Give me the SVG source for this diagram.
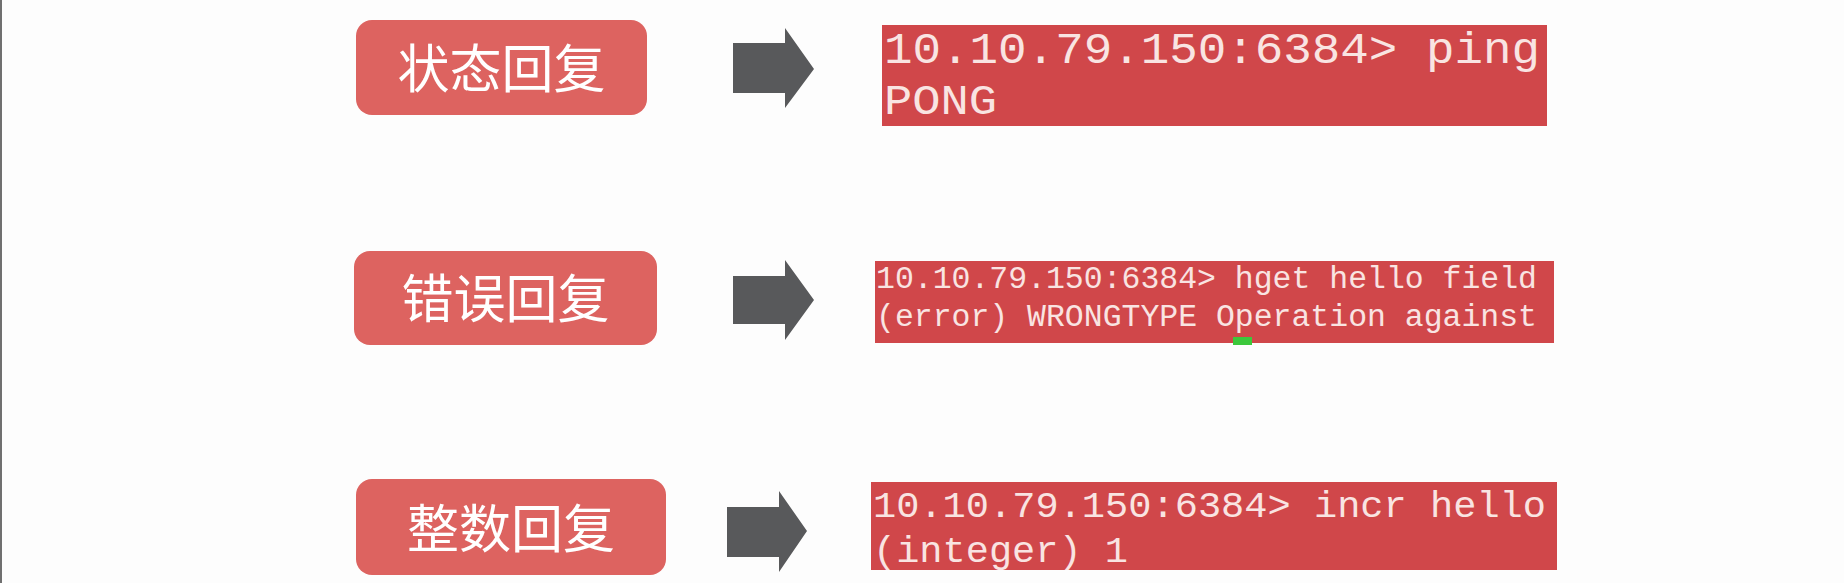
<svg xmlns="http://www.w3.org/2000/svg" width="1844" height="583" viewBox="0 0 1844 583">
<style>
.lbl{fill:#dd6360}
.lt{font-family:"Noto Sans CJK SC","Noto Sans",sans-serif;font-size:52px;fill:#ffffff;text-anchor:middle}
.term{fill:#d0474a}
.tt{font-family:"Liberation Mono","DejaVu Sans Mono",monospace;fill:#f9e4e2}
.arr{fill:#58595b}
</style>
<rect x="0" y="0" width="1844" height="583" fill="#fdfdfd"/>
<rect x="0" y="0" width="2" height="583" fill="#707070"/>
<g id="node-status">
<rect class="lbl" x="356" y="20" width="291" height="95" rx="16"/>
<text class="lt" x="501.5" y="88">状态回复</text>
</g>
<g id="node-error">
<rect class="lbl" x="354" y="251" width="303" height="94" rx="16"/>
<text class="lt" x="505.5" y="318">错误回复</text>
</g>
<g id="node-integer">
<rect class="lbl" x="356" y="479" width="310" height="96" rx="16"/>
<text class="lt" x="511" y="548">整数回复</text>
</g>
<g id="term-status">
<rect class="term" x="882" y="25" width="665" height="101"/>
<text class="tt" x="884" y="63" font-size="45" textLength="656" lengthAdjust="spacingAndGlyphs">10.10.79.150:6384&gt; ping</text>
<text class="tt" x="884" y="114" font-size="42" textLength="113" lengthAdjust="spacingAndGlyphs">PONG</text>
</g>
<g id="term-error">
<rect class="term" x="875" y="261" width="679" height="82"/>
<text class="tt" x="876" y="288" font-size="31" textLength="661" lengthAdjust="spacingAndGlyphs">10.10.79.150:6384&gt; hget hello field</text>
<text class="tt" x="876" y="326" font-size="31" textLength="661" lengthAdjust="spacingAndGlyphs">(error) WRONGTYPE Operation against</text>
<rect x="1233" y="337" width="19" height="8" fill="#3cc83c"/>
</g>
<g id="term-integer">
<rect class="term" x="871" y="482" width="686" height="88"/>
<text class="tt" x="873" y="517" font-size="37" textLength="673" lengthAdjust="spacingAndGlyphs">10.10.79.150:6384&gt; incr hello</text>
<text class="tt" x="873" y="562" font-size="37" textLength="255" lengthAdjust="spacingAndGlyphs">(integer) 1</text>
</g>
<g id="connectors">
<polygon class="arr" points="733,43 785,43 785,28 814,69 785,108 785,93 733,93"/>
<polygon class="arr" points="733,276 785,276 785,260 814,300 785,340 785,324 733,324"/>
<polygon class="arr" points="727,507 779,507 779,491 807,531 779,572 779,557 727,557"/>
</g>
</svg>
